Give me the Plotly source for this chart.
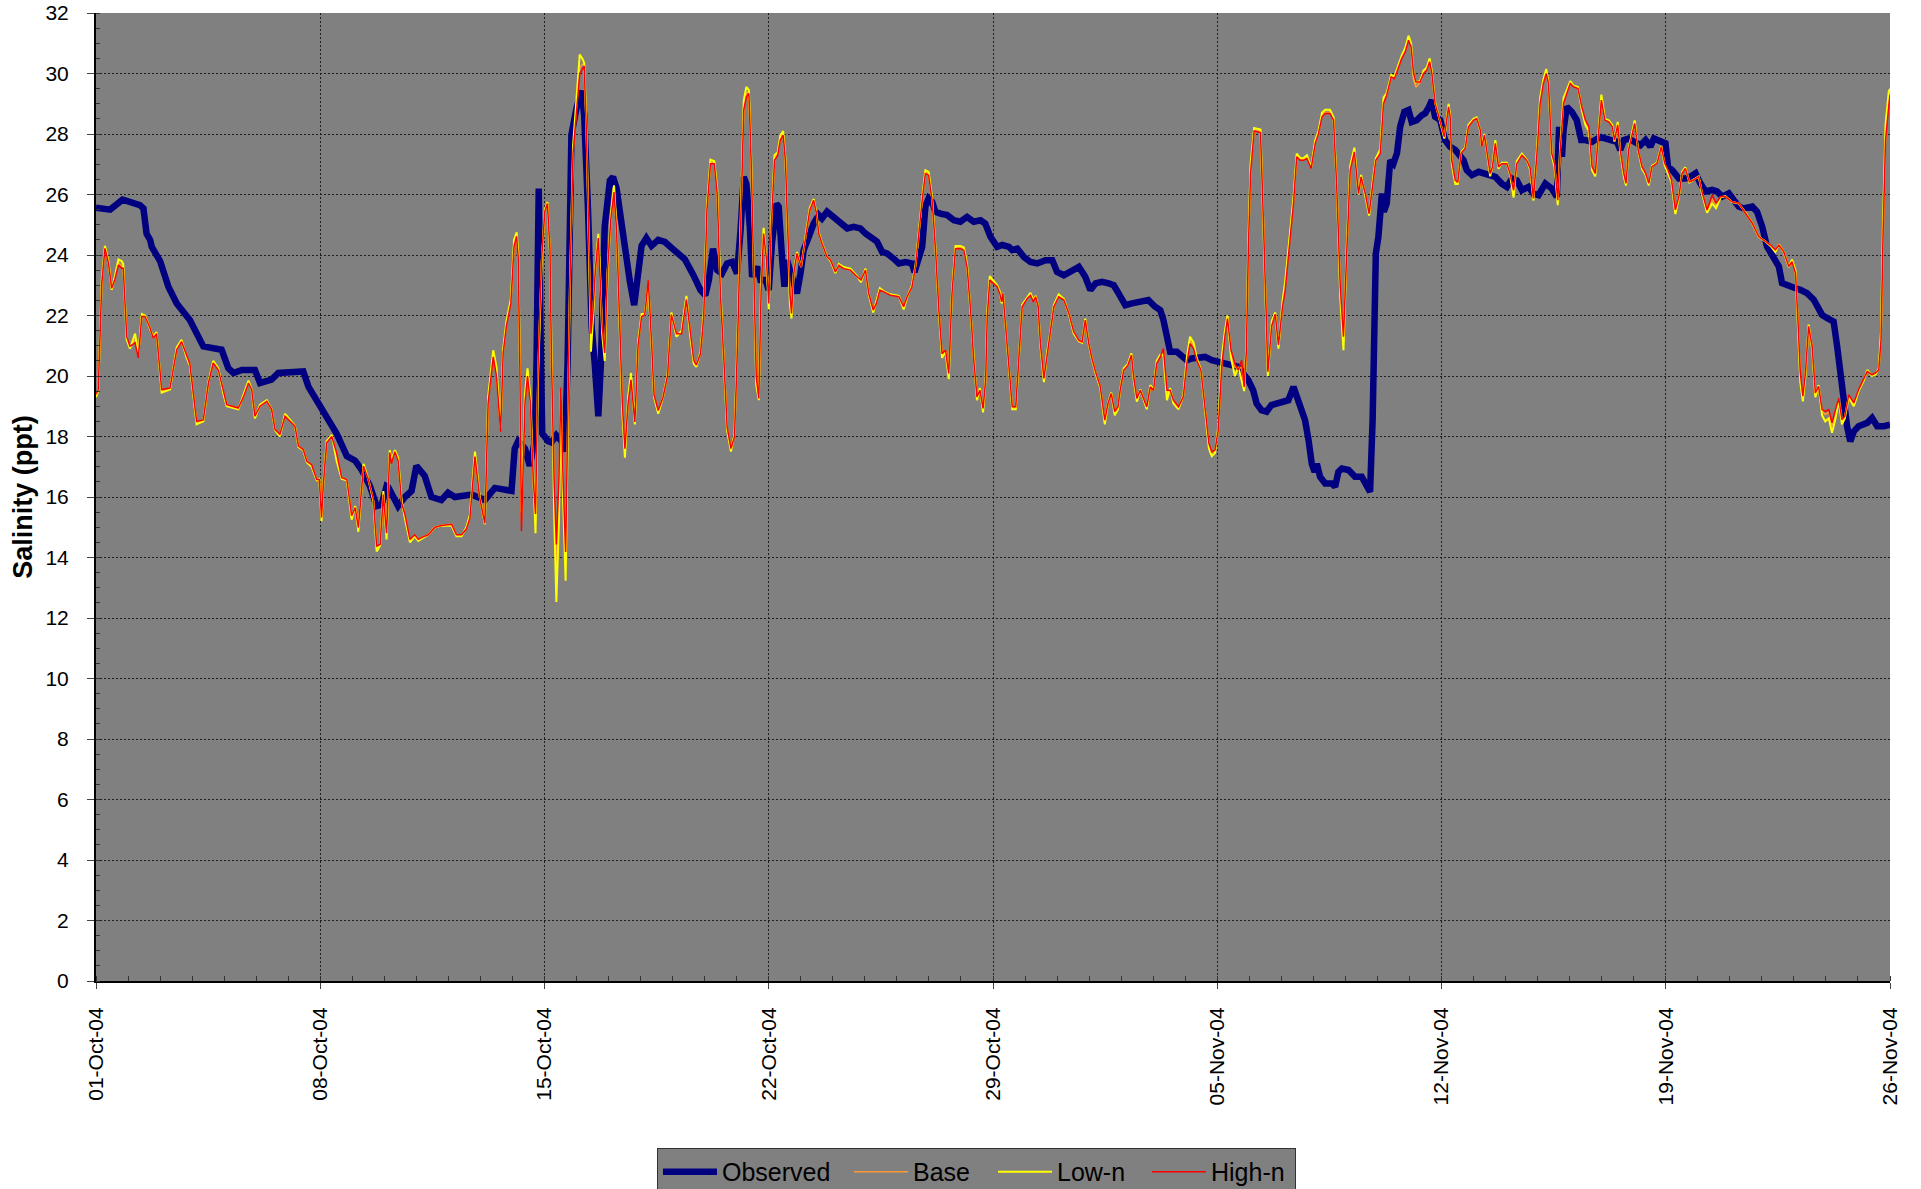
import pandas as pd
import plotly.graph_objects as go

START_DATE = "2004-10-01"
END_DATE = "2004-11-26"
TICK_FORMAT = "%d-%b-%y"
Y_TICKS = list(range(0, 33, 2))

# ---- Observed salinity (day offset from 01-Oct-04, ppt) ----
OBS_DAYS = [
    0.0, 0.44, 0.83, 1.06, 1.37, 1.48, 1.58, 1.69, 1.74, 2.0,
    2.26, 2.52, 2.73, 2.93, 3.35, 3.92, 4.13, 4.29, 4.55, 4.96,
    5.12, 5.48, 5.69, 6.47, 6.63, 6.89, 7.2, 7.51, 7.83, 8.09,
    8.29, 8.55, 8.76, 8.92, 9.07, 9.12, 9.43, 9.64, 9.85, 10.0,
    10.26, 10.47, 10.78, 10.99, 11.2, 11.72, 12.14, 12.45, 12.97, 13.07,
    13.18, 13.39, 13.54, 13.7, 13.75, 13.82, 13.89, 13.93, 14.11, 14.22,
    14.37, 14.53, 14.63, 14.72, 14.84, 15.0, 15.16, 15.24, 15.36, 15.47,
    15.57, 15.68, 15.76, 15.88, 16.04, 16.14, 16.25, 16.4, 16.56, 16.66,
    16.8, 16.92, 17.03, 17.18, 17.34, 17.55, 17.76, 17.96, 18.17, 18.38,
    18.64, 18.87, 19.02, 19.13, 19.26, 19.39, 19.54, 19.7, 19.86, 20.01,
    20.12, 20.22, 20.3, 20.41, 20.48, 20.64, 20.74, 20.9, 21.0, 21.1,
    21.24, 21.31, 21.42, 21.49, 21.57, 21.73, 21.88, 21.99, 22.09, 22.25,
    22.4, 22.56, 22.66, 22.82, 23.03, 23.24, 23.45, 23.65, 23.86, 24.02,
    24.23, 24.38, 24.54, 24.69, 24.9, 25.06, 25.27, 25.47, 25.55, 25.68,
    25.79, 25.89, 25.99, 26.1, 26.2, 26.36, 26.57, 26.78, 26.98, 27.19,
    27.4, 27.61, 27.76, 27.92, 28.13, 28.29, 28.5, 28.6, 28.76, 28.96,
    29.17, 29.38, 29.64, 29.85, 30.0, 30.21, 30.47, 30.68, 30.88, 31.04,
    31.2, 31.4, 31.61, 31.77, 31.92, 32.13, 32.34, 32.6, 32.85, 33.06,
    33.22, 33.32, 33.43, 33.53, 33.74, 33.89, 34.05, 34.2, 34.41, 34.62,
    34.83, 35.03, 35.24, 35.45, 35.66, 35.81, 35.97, 36.12, 36.23, 36.38,
    36.54, 36.69, 36.85, 37.0, 37.22, 37.38, 37.48, 37.59, 37.74, 37.85,
    37.95, 38.04, 38.11, 38.21, 38.37, 38.58, 38.68, 38.78, 38.89, 39.1,
    39.3, 39.51, 39.62, 39.77, 39.85, 39.91, 39.95, 40.03, 40.14, 40.2,
    40.29, 40.4, 40.5, 40.61, 40.71, 40.84, 40.97, 41.07, 41.23, 41.39,
    41.49, 41.61, 41.7, 41.8, 41.96, 42.11, 42.27, 42.43, 42.58, 42.69,
    42.79, 42.95, 43.16, 43.36, 43.52, 43.68, 43.88, 44.04, 44.2, 44.35,
    44.51, 44.72, 44.87, 45.03, 45.24, 45.44, 45.6, 45.67, 45.76, 45.81,
    45.91, 46.07, 46.22, 46.36, 46.49, 46.7, 46.96, 47.22, 47.48, 47.58,
    47.69, 47.84, 48.05, 48.21, 48.37, 48.52, 48.63, 48.83, 48.99, 49.07,
    49.2, 49.41, 49.61, 49.77, 49.93, 50.08, 50.24, 50.45, 50.6, 50.76,
    50.97, 51.12, 51.28, 51.43, 51.7, 51.85, 52.01, 52.16, 52.37, 52.53,
    52.63, 52.84, 53.05, 53.2, 53.41, 53.62, 53.77, 53.88, 54.04, 54.24,
    54.35, 54.45, 54.55, 54.66, 54.76, 54.87, 55.02, 55.18, 55.29, 55.44,
    55.6, 55.81, 56.0,
]
OBSERVED = [
    25.56, 25.5, 25.83, 25.74, 25.65, 25.54, 24.7, 24.5, 24.27, 23.8,
    22.95, 22.4, 22.1, 21.85, 20.98, 20.87, 20.26, 20.1, 20.2, 20.2,
    19.77, 19.88, 20.1, 20.15, 19.65, 19.2, 18.7, 18.1, 17.35, 17.2,
    16.9, 16.36, 15.7, 15.75, 16.36, 16.33, 15.7, 16.0, 16.2, 17.03,
    16.7, 16.0, 15.9, 16.14, 16.0, 16.08, 15.9, 16.3, 16.2, 17.6,
    17.85, 17.6, 17.03, 17.85, 20.4, 26.2, 20.4, 18.1, 17.85, 17.8,
    18.04, 17.85, 17.5, 20.4, 27.97, 28.86, 29.43, 28.6, 25.44, 21.65,
    20.38, 18.67, 20.4, 24.94, 26.46, 26.58, 26.2, 24.94, 23.8, 23.16,
    22.34, 23.4, 24.3, 24.56, 24.3, 24.5, 24.43, 24.24, 24.05, 23.86,
    23.35, 22.84, 22.67, 23.17, 24.21, 23.5, 23.39, 23.72, 23.77, 23.39,
    24.82, 26.58, 26.36, 24.93, 23.28, 23.61, 23.17, 23.17, 22.84, 24.38,
    25.7, 25.6, 23.83, 22.95, 23.83, 23.17, 22.73, 23.39, 24.16, 24.6,
    25.04, 25.32, 25.21, 25.43, 25.26, 25.04, 24.88, 24.93, 24.88, 24.71,
    24.55, 24.44, 24.1, 24.05, 23.88, 23.72, 23.77, 23.72, 23.44, 23.83,
    24.27, 25.6, 25.87, 25.76, 25.43, 25.37, 25.32, 25.15, 25.1, 25.26,
    25.1, 25.15, 25.04, 24.6, 24.27, 24.33, 24.27, 24.16, 24.21, 23.94,
    23.77, 23.72, 23.83, 23.83, 23.44, 23.33, 23.5, 23.61, 23.28, 22.84,
    23.06, 23.11, 23.06, 23.0, 22.73, 22.34, 22.4, 22.45, 22.51, 22.29,
    22.18, 21.85, 21.18, 20.8, 20.8, 20.69, 20.52, 20.58, 20.58, 20.63,
    20.52, 20.47, 20.41, 20.36, 20.3, 20.08, 19.86, 19.53, 19.09, 18.87,
    18.82, 19.04, 19.09, 19.15, 19.2, 19.64, 19.31, 18.98, 18.54, 17.88,
    17.1, 16.83, 17.1, 16.67, 16.45, 16.45, 16.34, 16.83, 16.94, 16.89,
    16.67, 16.67, 16.45, 16.17, 18.54, 22.95, 24.05, 24.6, 26.03, 25.43,
    25.7, 27.13, 27.02, 27.36, 28.24, 28.73, 28.79, 28.4, 28.46, 28.62,
    28.68, 28.9, 29.12, 28.57, 28.46, 27.8, 27.58, 27.47, 27.25, 27.13,
    26.8, 26.64, 26.75, 26.69, 26.64, 26.58, 26.36, 26.25, 26.53, 26.47,
    26.14, 26.25, 26.03, 25.98, 26.36, 26.2, 25.92, 28.24, 27.25, 28.13,
    28.9, 28.73, 28.46, 27.8, 27.8, 27.74, 27.9, 27.8, 27.74, 27.47,
    27.8, 27.85, 27.74, 27.63, 27.8, 27.58, 27.85, 27.74, 27.69, 26.92,
    26.81, 26.53, 26.53, 26.59, 26.7, 26.37, 26.1, 26.15, 26.1, 25.93,
    26.04, 25.82, 25.6, 25.54, 25.6, 25.43, 24.94, 24.28, 23.95, 23.62,
    23.07, 22.96, 22.9, 22.85, 22.74, 22.52, 22.19, 22.02, 21.91, 21.8,
    20.98, 20.1, 19.22, 18.34, 17.84, 18.17, 18.34, 18.39, 18.45, 18.61,
    18.34, 18.34, 18.39,
]

# ---- Model runs (shared day offsets) ----
MODEL_DAYS = [
    0.0, 0.07, 0.18, 0.28, 0.39, 0.49, 0.59, 0.7, 0.8, 0.85,
    0.96, 1.06, 1.22, 1.32, 1.43, 1.53, 1.69, 1.79, 1.89, 2.05,
    2.31, 2.52, 2.67, 2.83, 2.93, 3.14, 3.35, 3.51, 3.66, 3.82,
    3.98, 4.08, 4.44, 4.6, 4.76, 4.86, 4.96, 5.12, 5.33, 5.48,
    5.59, 5.74, 5.9, 6.06, 6.21, 6.32, 6.47, 6.58, 6.73, 6.89,
    6.97, 7.04, 7.1, 7.2, 7.36, 7.51, 7.67, 7.83, 7.98, 8.09,
    8.19, 8.35, 8.5, 8.66, 8.76, 8.87, 8.97, 9.07, 9.17, 9.22,
    9.33, 9.43, 9.54, 9.64, 9.8, 9.95, 10.06, 10.21, 10.37, 10.58,
    10.78, 11.1, 11.25, 11.41, 11.56, 11.67, 11.83, 11.98, 12.14, 12.24,
    12.4, 12.5, 12.63, 12.71, 12.81, 12.95, 13.05, 13.13, 13.18, 13.23,
    13.28, 13.39, 13.47, 13.56, 13.65, 13.72, 13.8, 13.91, 14.01, 14.09,
    14.17, 14.22, 14.3, 14.37, 14.45, 14.51, 14.58, 14.66, 14.72, 14.79,
    14.89, 15.0, 15.1, 15.18, 15.24, 15.31, 15.38, 15.45, 15.52, 15.59,
    15.68, 15.73, 15.8, 15.88, 15.97, 16.07, 16.17, 16.25, 16.35, 16.43,
    16.51, 16.61, 16.7, 16.77, 16.82, 16.92, 17.03, 17.13, 17.24, 17.34,
    17.42, 17.55, 17.7, 17.84, 17.96, 18.12, 18.28, 18.43, 18.54, 18.66,
    18.74, 18.87, 18.97, 19.07, 19.18, 19.3, 19.39, 19.49, 19.6, 19.7,
    19.82, 19.93, 20.01, 20.12, 20.22, 20.3, 20.38, 20.45, 20.53, 20.61,
    20.69, 20.76, 20.84, 20.93, 21.0, 21.08, 21.18, 21.28, 21.36, 21.45,
    21.52, 21.59, 21.66, 21.71, 21.78, 21.88, 22.01, 22.14, 22.28, 22.4,
    22.49, 22.56, 22.66, 22.82, 22.93, 23.08, 23.19, 23.34, 23.55, 23.76,
    23.88, 24.02, 24.12, 24.26, 24.36, 24.47, 24.59, 24.8, 25.06, 25.21,
    25.32, 25.47, 25.58, 25.68, 25.79, 25.89, 25.99, 26.1, 26.2, 26.31,
    26.41, 26.52, 26.62, 26.72, 26.83, 26.98, 27.09, 27.19, 27.3, 27.4,
    27.5, 27.59, 27.69, 27.77, 27.82, 27.9, 28.03, 28.13, 28.21, 28.27,
    28.31, 28.39, 28.5, 28.6, 28.71, 28.81, 28.91, 29.07, 29.17, 29.26,
    29.33, 29.41, 29.48, 29.59, 29.69, 29.79, 29.9, 30.05, 30.21, 30.37,
    30.52, 30.68, 30.78, 30.88, 30.99, 31.09, 31.2, 31.35, 31.49, 31.59,
    31.69, 31.8, 31.9, 31.97, 32.08, 32.21, 32.32, 32.39, 32.49, 32.6,
    32.7, 32.8, 32.91, 33.01, 33.11, 33.22, 33.32, 33.43, 33.53, 33.63,
    33.79, 33.94, 34.05, 34.15, 34.26, 34.36, 34.49, 34.62, 34.74, 34.83,
    34.93, 35.03, 35.14, 35.24, 35.32, 35.43, 35.55, 35.66, 35.76, 35.84,
    35.91, 35.97, 36.04, 36.15, 36.35, 36.45, 36.58, 36.7, 36.81, 36.91,
    37.04, 37.12, 37.28, 37.38, 37.48, 37.59, 37.69, 37.8, 37.93, 38.06,
    38.16, 38.27, 38.37, 38.52, 38.63, 38.73, 38.84, 38.94, 39.04, 39.15,
    39.28, 39.34, 39.41, 39.49, 39.62, 39.74, 39.85, 39.95, 40.09, 40.19,
    40.29, 40.43, 40.53, 40.66, 40.76, 40.87, 40.97, 41.05, 41.13, 41.2,
    41.33, 41.44, 41.54, 41.63, 41.7, 41.8, 41.89, 41.99, 42.09, 42.22,
    42.27, 42.32, 42.43, 42.51, 42.61, 42.74, 42.84, 43.0, 43.1, 43.21,
    43.26, 43.34, 43.42, 43.52, 43.59, 43.68, 43.78, 43.88, 44.04, 44.14,
    44.25, 44.35, 44.51, 44.66, 44.77, 44.87, 44.98, 45.08, 45.18, 45.27,
    45.34, 45.44, 45.53, 45.63, 45.7, 45.81, 45.91, 46.02, 46.12, 46.26,
    46.38, 46.49, 46.6, 46.7, 46.8, 46.89, 46.99, 47.1, 47.22, 47.33,
    47.4, 47.5, 47.58, 47.69, 47.76, 47.84, 47.95, 48.03, 48.14, 48.26,
    48.37, 48.47, 48.57, 48.73, 48.86, 48.97, 49.07, 49.18, 49.3, 49.41,
    49.51, 49.61, 49.74, 49.87, 50.03, 50.13, 50.29, 50.45, 50.57, 50.71,
    50.86, 51.07, 51.28, 51.49, 51.7, 51.9, 52.11, 52.27, 52.42, 52.53,
    52.68, 52.84, 52.94, 53.05, 53.13, 53.2, 53.28, 53.36, 53.46, 53.57,
    53.67, 53.77, 53.88, 53.98, 54.09, 54.19, 54.3, 54.4, 54.5, 54.59,
    54.71, 54.87, 55.02, 55.18, 55.29, 55.44, 55.55, 55.65, 55.72, 55.78,
    55.86, 55.96, 56.0,
]
HIGH_N = [
    19.4, 19.55, 23.07, 24.22, 23.73, 22.9, 23.2, 23.67, 23.56, 23.56,
    21.3, 20.98, 21.1, 20.6, 21.97, 21.97, 21.58, 21.25, 21.4, 19.55,
    19.6, 20.87, 21.14, 20.64, 20.4, 18.5, 18.55, 19.77, 20.43, 20.2,
    19.44, 19.05, 18.94, 19.3, 19.77, 19.55, 18.67, 19.0, 19.16, 18.9,
    18.23, 18.07, 18.67, 18.5, 18.34, 17.68, 17.57, 17.18, 17.07, 16.58,
    16.58, 15.32, 16.47, 17.79, 18.0, 17.46, 16.64, 16.58, 15.38, 15.65,
    14.99, 17.02, 16.58, 15.92, 14.38, 14.43, 16.08, 14.8, 17.47, 17.1,
    17.5, 17.2, 15.8, 15.44, 14.6, 14.75, 14.6, 14.68, 14.75, 15.0,
    15.06, 15.1, 14.75, 14.75, 14.94, 15.3, 17.34, 15.95, 15.13, 19.1,
    20.63, 20.0, 18.16, 20.76, 21.65, 22.4, 24.3, 24.62, 23.9, 20.38,
    14.87, 19.1, 20.0, 19.1, 16.58, 15.44, 20.4, 23.9, 25.44, 25.7,
    24.2, 20.4, 16.58, 14.43, 16.58, 19.62, 16.58, 14.18, 17.85, 22.9,
    27.34, 28.86, 30.0, 30.13, 30.25, 27.97, 24.18, 21.4, 22.28, 23.54,
    24.56, 23.54, 21.65, 20.76, 23.54, 25.19, 26.08, 24.81, 21.65, 19.1,
    17.6, 19.1, 19.87, 19.1, 18.48, 21.0, 21.96, 22.03, 23.16, 21.14,
    19.37, 18.86, 19.3, 20.0, 22.03, 21.4, 21.4, 22.53, 21.52, 20.52,
    20.36, 20.74, 21.96, 25.48, 27.02, 27.02, 26.03, 22.73, 20.52, 18.32,
    17.6, 17.99, 20.52, 24.93, 28.79, 29.23, 29.34, 27.13, 23.83, 19.97,
    19.26, 22.73, 24.71, 23.83, 22.4, 24.93, 27.13, 27.3, 27.8, 27.96,
    27.13, 24.93, 22.73, 22.07, 23.39, 24.05, 23.61, 24.49, 25.48, 25.81,
    25.37, 24.71, 24.38, 23.94, 23.83, 23.44, 23.66, 23.55, 23.5, 23.28,
    23.17, 23.5, 22.73, 22.18, 22.4, 22.84, 22.78, 22.67, 22.62, 22.29,
    22.62, 22.95, 23.61, 24.71, 25.81, 26.69, 26.64, 25.81, 24.27, 22.18,
    20.74, 20.85, 20.08, 22.73, 24.21, 24.21, 24.16, 23.61, 22.18, 20.52,
    19.31, 19.53, 18.93, 19.86, 21.96, 23.17, 23.06, 22.95, 22.73, 22.45,
    22.73, 21.74, 20.3, 18.98, 18.98, 20.63, 22.29, 22.56, 22.67, 22.45,
    22.62, 22.29, 21.07, 19.92, 20.74, 21.4, 22.29, 22.62, 22.51, 22.07,
    21.46, 21.18, 21.13, 21.85, 21.07, 20.58, 20.14, 19.64, 18.54, 19.09,
    19.42, 18.82, 18.98, 19.53, 20.19, 20.36, 20.69, 19.97, 19.26, 19.53,
    19.26, 18.98, 19.64, 19.53, 20.41, 20.63, 20.91, 19.53, 19.53, 19.2,
    18.98, 19.31, 20.41, 21.07, 20.91, 20.52, 20.19, 18.98, 17.77, 17.49,
    17.55, 18.21, 20.3, 21.3, 21.9, 20.85, 20.41, 20.19, 20.52, 19.64,
    20.85, 24.16, 26.7, 28.1, 28.05, 24.8, 20.14, 21.66, 22.04, 21.03,
    22.3, 22.84, 24.6, 25.7, 27.25, 27.13, 27.13, 27.19, 26.86, 27.69,
    28.02, 28.57, 28.68, 28.68, 28.46, 26.25, 22.95, 21.3, 24.05, 26.8,
    27.41, 26.8, 26.03, 26.58, 26.03, 25.37, 26.25, 27.13, 27.36, 29.0,
    29.28, 29.89, 29.83, 30.22, 30.5, 30.72, 31.1, 30.88, 30.0, 29.72,
    29.72, 30.0, 30.11, 30.39, 30.0, 29.01, 28.68, 28.35, 27.91, 28.9,
    28.57, 27.13, 26.47, 26.42, 27.36, 27.52, 28.24, 28.46, 28.51, 28.13,
    27.58, 27.96, 27.36, 26.69, 26.91, 27.69, 26.91, 27.02, 27.02, 26.69,
    26.14, 27.02, 27.3, 27.13, 26.86, 25.87, 27.36, 29.01, 29.67, 30.0,
    29.67, 27.36, 27.02, 25.81, 27.36, 29.01, 29.34, 29.67, 29.56, 29.5,
    28.9, 28.46, 28.24, 26.92, 26.7, 27.8, 29.12, 28.46, 28.4, 28.24,
    27.8, 28.3, 27.47, 26.7, 26.37, 27.47, 28.02, 28.35, 27.47, 26.92,
    26.7, 26.37, 26.92, 27.03, 27.58, 27.03, 26.81, 26.48, 25.49, 25.93,
    26.7, 26.86, 26.42, 26.48, 26.59, 26.1, 25.49, 25.98, 25.71, 25.93,
    25.93, 25.76, 25.71, 25.38, 25.05, 24.61, 24.44, 24.33, 24.17, 24.33,
    24.11, 23.62, 23.78, 23.4, 21.75, 20.1, 19.33, 20.1, 21.64, 20.98,
    19.44, 19.66, 18.89, 18.83, 18.89, 18.45, 18.89, 19.27, 18.56, 18.67,
    19.38, 19.11, 19.55, 19.88, 20.15, 20.04, 20.1, 20.21, 21.2, 24.5,
    27.8, 28.9, 29.3,
]
LOW_N = [
    19.3, 19.5, 23.2, 24.3, 23.8, 22.85, 23.3, 23.85, 23.8, 23.7,
    21.2, 20.9, 21.4, 20.7, 22.05, 22.0, 21.55, 21.3, 21.45, 19.45,
    19.55, 20.95, 21.2, 20.6, 20.35, 18.4, 18.5, 19.8, 20.5, 20.25,
    19.4, 19.0, 18.9, 19.35, 19.85, 19.55, 18.6, 19.05, 19.2, 18.9,
    18.2, 18.0, 18.75, 18.55, 18.35, 17.65, 17.55, 17.15, 17.0, 16.55,
    16.6, 15.2, 16.5, 17.85, 18.05, 17.2, 16.6, 16.55, 15.25, 15.7,
    14.85, 17.1, 16.6, 15.85, 14.2, 14.4, 16.2, 14.6, 17.55, 17.2,
    17.55, 17.3, 15.9, 15.3, 14.5, 14.7, 14.55, 14.65, 14.75, 15.0,
    15.05, 15.05, 14.7, 14.7, 15.0, 15.4, 17.5, 16.0, 15.1, 19.3,
    20.85, 20.3, 18.3, 20.9, 21.8, 22.55, 24.5, 24.75, 24.1, 20.5,
    15.5, 19.4, 20.25, 19.3, 16.4, 14.8, 20.0, 23.7, 25.5, 25.75,
    24.1, 20.1, 15.5, 12.53, 15.2, 19.5, 15.9, 13.23, 17.4, 22.8,
    27.6, 29.3, 30.63, 30.5, 30.35, 28.2, 24.0, 20.8, 22.0, 23.6,
    24.7, 23.6, 21.4, 20.5, 23.4, 25.3, 26.3, 24.9, 21.5, 18.8,
    17.3, 19.3, 20.1, 19.2, 18.4, 21.1, 22.05, 22.05, 23.0, 21.1,
    19.3, 18.75, 19.3, 20.05, 22.1, 21.3, 21.5, 22.65, 21.4, 20.4,
    20.3, 20.8, 22.1, 25.6, 27.15, 27.1, 26.2, 22.9, 20.6, 18.2,
    17.5, 18.1, 20.7, 25.2, 29.1, 29.56, 29.45, 27.3, 23.7, 19.7,
    19.2, 23.0, 24.9, 23.7, 22.2, 25.1, 27.3, 27.4, 27.95, 28.1,
    27.2, 24.8, 22.4, 21.9, 23.4, 24.1, 23.6, 24.55, 25.55, 25.85,
    25.4, 24.75, 24.4, 23.95, 23.8, 23.4, 23.7, 23.6, 23.55, 23.3,
    23.1, 23.55, 22.7, 22.1, 22.45, 22.9, 22.8, 22.7, 22.65, 22.2,
    22.6, 23.0, 23.65, 24.8, 25.9, 26.8, 26.75, 25.9, 24.3, 22.1,
    20.6, 20.8, 19.9, 22.8, 24.3, 24.3, 24.25, 23.7, 22.1, 20.4,
    19.2, 19.6, 18.8, 19.9, 22.1, 23.3, 23.15, 23.0, 22.8, 22.4,
    22.75, 21.7, 20.25, 18.9, 18.9, 20.7, 22.35, 22.6, 22.75, 22.5,
    22.65, 22.3, 21.0, 19.8, 20.8, 21.45, 22.35, 22.7, 22.55, 22.05,
    21.4, 21.15, 21.1, 21.9, 21.05, 20.55, 20.1, 19.6, 18.4, 19.1,
    19.45, 18.7, 18.9, 19.55, 20.25, 20.4, 20.75, 19.9, 19.15, 19.55,
    19.2, 18.9, 19.7, 19.55, 20.5, 20.7, 20.7, 19.2, 19.6, 19.1,
    18.9, 19.35, 20.6, 21.3, 21.1, 20.6, 20.2, 18.9, 17.6, 17.35,
    17.45, 18.3, 20.6, 21.5, 22.0, 20.6, 20.0, 20.3, 19.8, 19.5,
    21.0, 24.4, 27.0, 28.2, 28.15, 24.9, 20.0, 21.8, 22.1, 20.9,
    22.5, 23.1, 24.9, 25.9, 27.35, 27.2, 27.2, 27.3, 26.9, 27.8,
    28.1, 28.7, 28.8, 28.8, 28.55, 26.3, 22.6, 20.85, 24.2, 26.95,
    27.55, 26.75, 26.0, 26.65, 26.0, 25.3, 26.4, 27.2, 27.5, 29.2,
    29.35, 29.95, 29.9, 30.3, 30.6, 30.85, 31.25, 31.0, 29.95, 29.7,
    29.75, 30.1, 30.2, 30.5, 30.05, 29.05, 28.7, 28.3, 27.85, 29.0,
    28.6, 27.0, 26.35, 26.35, 27.4, 27.55, 28.3, 28.5, 28.55, 28.1,
    27.6, 28.0, 27.3, 26.6, 26.95, 27.8, 26.85, 27.05, 27.05, 26.65,
    25.9, 27.1, 27.35, 27.15, 26.8, 25.8, 27.5, 29.2, 29.8, 30.15,
    29.7, 27.3, 26.9, 25.65, 27.5, 29.2, 29.45, 29.75, 29.6, 29.55,
    28.8, 28.3, 28.1, 26.8, 26.6, 27.9, 29.3, 28.5, 28.45, 28.3,
    27.75, 28.4, 27.4, 26.6, 26.3, 27.5, 28.1, 28.45, 27.45, 26.85,
    26.65, 26.3, 26.95, 27.05, 27.6, 26.95, 26.7, 26.4, 25.35, 25.9,
    26.75, 26.9, 26.4, 26.5, 26.6, 26.05, 25.4, 25.7, 25.55, 25.9,
    25.95, 25.75, 25.7, 25.4, 25.05, 24.6, 24.45, 24.3, 24.1, 24.35,
    24.1, 23.6, 23.85, 23.5, 21.6, 19.8, 19.16, 20.0, 21.7, 20.9,
    19.3, 19.7, 18.7, 18.5, 18.6, 18.12, 18.6, 19.2, 18.4, 18.6,
    19.3, 19.0, 19.5, 19.85, 20.2, 20.0, 20.05, 20.25, 21.5, 25.0,
    28.3, 29.4, 29.5,
]
BASE = [
    19.4, 19.55, 23.1, 24.25, 23.75, 22.9, 23.25, 23.75, 23.65, 23.6,
    21.25, 20.95, 21.2, 20.65, 22.0, 21.97, 21.58, 21.25, 21.4, 19.5,
    19.6, 20.9, 21.15, 20.64, 20.4, 18.45, 18.55, 19.77, 20.45, 20.2,
    19.44, 19.05, 18.94, 19.3, 19.8, 19.55, 18.65, 19.0, 19.16, 18.9,
    18.23, 18.05, 18.7, 18.5, 18.34, 17.68, 17.57, 17.18, 17.05, 16.58,
    16.58, 15.3, 16.47, 17.8, 18.0, 17.4, 16.64, 16.58, 15.35, 15.65,
    14.95, 17.05, 16.58, 15.9, 14.3, 14.43, 16.1, 14.75, 17.5, 17.15,
    17.5, 17.25, 15.85, 15.4, 14.55, 14.75, 14.6, 14.68, 14.75, 15.0,
    15.06, 15.1, 14.75, 14.75, 14.95, 15.35, 17.4, 15.95, 15.12, 19.2,
    20.7, 20.1, 18.2, 20.8, 21.7, 22.45, 24.35, 24.65, 24.0, 20.4,
    15.2, 19.2, 20.1, 19.2, 16.5, 15.2, 20.2, 23.8, 25.45, 25.7,
    24.2, 20.3, 16.2, 13.8, 16.0, 19.6, 16.3, 13.8, 17.7, 22.9,
    27.4, 29.0, 30.2, 30.3, 30.3, 28.0, 24.1, 21.2, 22.2, 23.55,
    24.6, 23.55, 21.55, 20.65, 23.5, 25.2, 26.15, 24.85, 21.6, 19.0,
    17.5, 19.15, 19.95, 19.15, 18.45, 21.05, 22.0, 22.03, 23.1, 21.12,
    19.35, 18.8, 19.3, 20.0, 22.05, 21.35, 21.45, 22.55, 21.5, 20.5,
    20.35, 20.75, 22.0, 25.5, 27.05, 27.05, 26.1, 22.8, 20.55, 18.3,
    17.55, 18.0, 20.6, 25.0, 28.9, 29.35, 29.4, 27.2, 23.8, 19.9,
    19.25, 22.8, 24.8, 23.8, 22.35, 25.0, 27.2, 27.35, 27.85, 28.0,
    27.15, 24.9, 22.6, 22.0, 23.4, 24.05, 23.6, 24.5, 25.5, 25.82,
    25.38, 24.72, 24.38, 23.94, 23.83, 23.43, 23.67, 23.56, 23.5, 23.28,
    23.15, 23.52, 22.72, 22.15, 22.42, 22.86, 22.78, 22.68, 22.62, 22.26,
    22.62, 22.97, 23.62, 24.75, 25.85, 26.72, 26.68, 25.84, 24.28, 22.15,
    20.7, 20.83, 20.0, 22.75, 24.25, 24.25, 24.2, 23.65, 22.15, 20.48,
    19.28, 19.55, 18.9, 19.88, 22.0, 23.2, 23.1, 22.97, 22.75, 22.43,
    22.73, 21.72, 20.28, 18.95, 18.95, 20.65, 22.3, 22.57, 22.7, 22.47,
    22.63, 22.29, 21.05, 19.88, 20.75, 21.42, 22.3, 22.65, 22.52, 22.06,
    21.44, 21.17, 21.12, 21.87, 21.06, 20.57, 20.13, 19.63, 18.5, 19.09,
    19.43, 18.78, 18.95, 19.53, 20.2, 20.37, 20.7, 19.95, 19.22, 19.53,
    19.24, 18.95, 19.66, 19.53, 20.44, 20.65, 20.85, 19.45, 19.55, 19.17,
    18.95, 19.32, 20.48, 21.15, 21.0, 20.55, 20.19, 18.95, 17.7, 17.45,
    17.52, 18.24, 20.4, 21.4, 21.95, 20.75, 20.3, 20.22, 20.3, 19.6,
    20.9, 24.25, 26.8, 28.15, 28.1, 24.85, 20.1, 21.7, 22.06, 21.0,
    22.35, 22.95, 24.7, 25.8, 27.3, 27.15, 27.15, 27.22, 26.87, 27.72,
    28.05, 28.62, 28.72, 28.72, 28.5, 26.27, 22.85, 21.15, 24.1, 26.85,
    27.45, 26.78, 26.02, 26.6, 26.02, 25.35, 26.3, 27.15, 27.4, 29.05,
    29.3, 29.9, 29.85, 30.25, 30.55, 30.78, 31.15, 30.9, 29.8, 29.55,
    29.7, 30.05, 30.15, 30.42, 30.02, 29.02, 28.68, 28.33, 27.9, 28.95,
    28.58, 27.1, 26.43, 26.4, 27.37, 27.53, 28.26, 28.47, 28.52, 28.12,
    27.58, 27.97, 27.34, 26.66, 26.92, 27.72, 26.89, 27.03, 27.03, 26.68,
    26.05, 27.05, 27.32, 27.14, 26.84, 25.85, 27.4, 29.07, 29.72, 30.05,
    29.68, 27.34, 26.98, 25.76, 27.4, 29.07, 29.38, 29.7, 29.57, 29.51,
    28.87, 28.4, 28.2, 26.88, 26.67, 27.83, 29.18, 28.47, 28.42, 28.26,
    27.78, 28.33, 27.45, 26.67, 26.35, 27.48, 28.05, 28.38, 27.46, 26.9,
    26.68, 26.35, 26.93, 27.04, 27.59, 27.0, 26.78, 26.45, 25.45, 25.92,
    26.72, 26.87, 26.41, 26.48, 26.59, 26.08, 25.46, 25.85, 25.65, 25.92,
    25.94, 25.76, 25.71, 25.39, 25.05, 24.61, 24.44, 24.32, 24.15, 24.33,
    24.11, 23.62, 23.8, 23.43, 21.7, 20.0, 19.28, 20.07, 21.66, 20.96,
    19.4, 19.67, 18.83, 18.73, 18.8, 18.35, 18.8, 19.25, 18.5, 18.65,
    19.35, 19.08, 19.53, 19.87, 20.16, 20.03, 20.08, 20.22, 21.3, 24.7,
    28.0, 29.1, 29.4,
]

start = pd.Timestamp(START_DATE)


def to_dates(days):
    return [start + pd.Timedelta(days=d) for d in days]


obs_x = to_dates(OBS_DAYS)
mod_x = to_dates(MODEL_DAYS)

FONT = "Liberation Sans, Arial, sans-serif"

fig = go.Figure()
fig.add_trace(go.Scatter(x=obs_x, y=OBSERVED, name="Observed", mode="lines",
                         legendwidth=122,
                         line=dict(color="#000080", width=6.5)))
fig.add_trace(go.Scatter(x=mod_x, y=BASE, name="Base", mode="lines",
                         legendwidth=75,
                         line=dict(color="#FF9933", width=1.6)))
fig.add_trace(go.Scatter(x=mod_x, y=LOW_N, name="Low-n", mode="lines",
                         legendwidth=85,
                         line=dict(color="#FFFF00", width=2)))
fig.add_trace(go.Scatter(x=mod_x, y=HIGH_N, name="High-n", mode="lines",
                         legendwidth=79,
                         line=dict(color="#FF0000", width=1.5)))

DAY_MS = 86400000

fig.update_layout(
    width=1921, height=1189, autosize=False,
    margin=dict(l=96, r=31, t=13, b=208, pad=0, autoexpand=False),
    paper_bgcolor="white", plot_bgcolor="#808080",
    font=dict(family=FONT, color="black"),
    showlegend=True,
    legend=dict(orientation="h", x=0.3127, y=-0.1725, xanchor="left", yanchor="top",
                bgcolor="#808080", bordercolor="#333333", borderwidth=1,
                font=dict(family=FONT, size=25, color="black"),
                itemwidth=54, tracegroupgap=0),
    xaxis=dict(
        type="date", range=[START_DATE, END_DATE],
        tickformat=TICK_FORMAT, tick0=START_DATE, dtick=7 * DAY_MS,
        tickangle=-90, ticks="outside", ticklen=6, tickwidth=1, tickcolor="#444444",
        ticklabelstandoff=10,
        tickfont=dict(family=FONT, size=21, color="black"),
        showline=True, linecolor="black", linewidth=2,
        showgrid=True, gridcolor="#1e1e1e", gridwidth=1, griddash="2px,2px",
        zeroline=False,
        minor=dict(tick0=START_DATE, dtick=DAY_MS, ticks="inside", ticklen=5,
                   tickcolor="#333333", tickwidth=1, showgrid=False),
    ),
    yaxis=dict(
        range=[0, 32], tickmode="array", tickvals=Y_TICKS,
        ticktext=[str(v) for v in Y_TICKS],
        ticks="outside", ticklen=7, tickwidth=1, tickcolor="#444444",
        ticklabelstandoff=14,
        tickfont=dict(family=FONT, size=21, color="black"),
        showline=True, linecolor="black", linewidth=2,
        showgrid=True, gridcolor="#1e1e1e", gridwidth=1, griddash="2px,2px",
        zeroline=False,
        minor=dict(tick0=0, dtick=0.5, ticks="inside", ticklen=4,
                   tickcolor="#333333", tickwidth=1, showgrid=False),
        title=dict(text="<b>Salinity (ppt)</b>", standoff=5,
                   font=dict(family=FONT, size=27, color="black")),
    ),
)

fig.write_html("out.html", config={"displayModeBar": False},
               post_script="document.body.style.margin='0';document.body.style.overflow='hidden';")
